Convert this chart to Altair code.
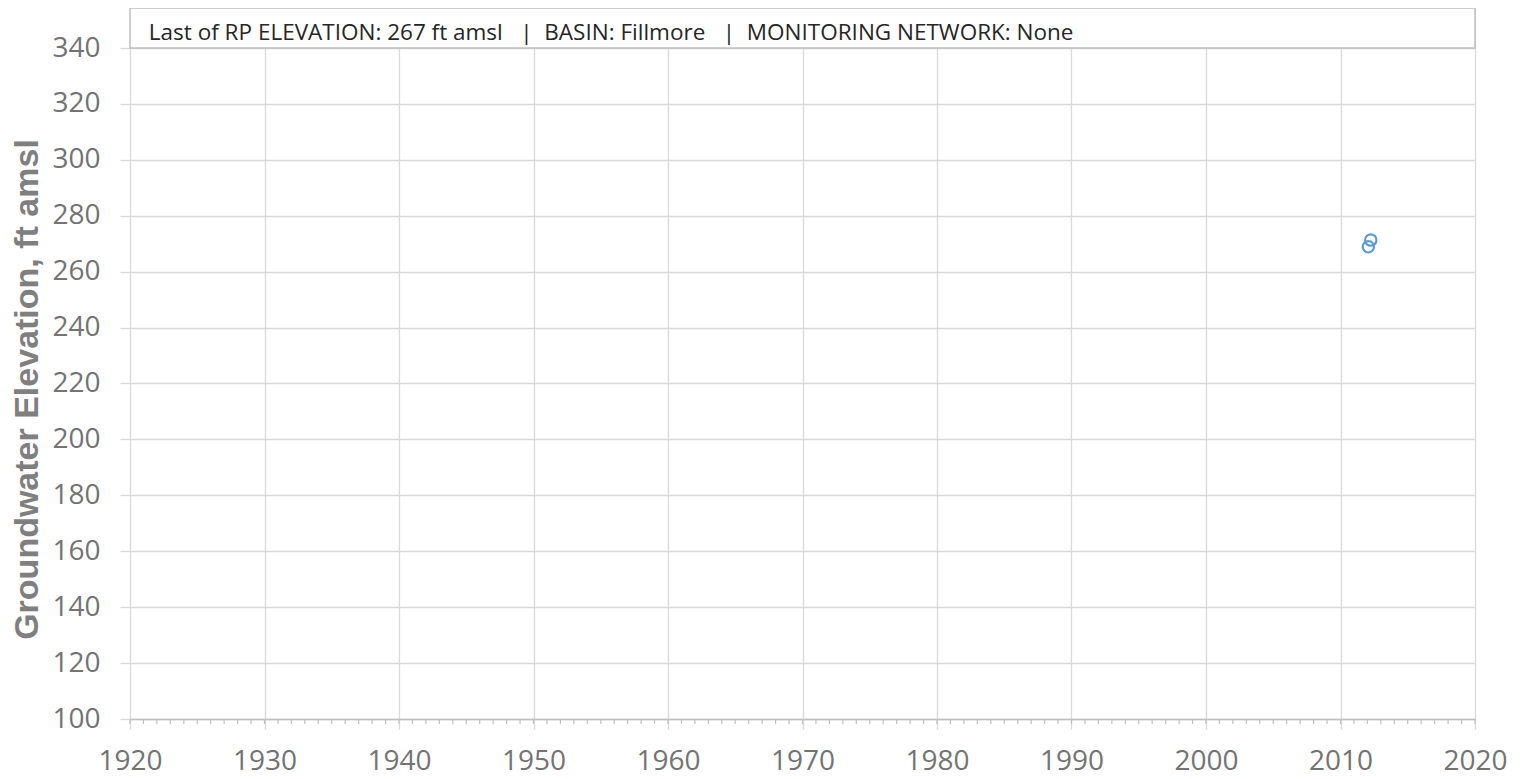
import altair as alt
import pandas as pd

# Data
years = [2012.07, 2012.25]
elev = [268.9, 271.3]

x_ticks = [1920, 1930, 1940, 1950, 1960, 1970, 1980, 1990, 2000, 2010, 2020]
y_ticks = [100, 120, 140, 160, 180, 200, 220, 240, 260, 280, 300, 320, 340]
minor_years = list(range(1920, 2021))
SEP = "\u00a0\u00a0\u00a0|\u00a0\u00a0"
header_text = "Last of RP ELEVATION: 267 ft amsl" + SEP + "BASIN: Fillmore" + SEP + "MONITORING NETWORK: None"

W, H = 1345, 711
PX_PER_UNIT = 671 / 240
Y_TOP = 100 + H / PX_PER_UNIT
X_DOM = [1920, 2020]
Y_DOM = [100, Y_TOP]

xs = alt.Scale(domain=X_DOM, nice=False, zero=False)
ys = alt.Scale(domain=Y_DOM, nice=False, zero=False)

LABEL_FONT = "Open Sans"
GRID = "#d9d9d9"
LABEL_COLOR = "#737373"

pts = pd.DataFrame({"year": years, "elev": elev})

x_axis = alt.Axis(values=x_ticks, format="d", grid=True, gridColor=GRID, gridWidth=1.3,
                  tickColor=GRID, tickSize=10, tickWidth=1.3, domainColor="#bfbfbf", domainWidth=1.3,
                  labelFont=LABEL_FONT, labelFontSize=28, labelColor=LABEL_COLOR,
                  labelBaseline="alphabetic", labelPadding=40, title=None, labelFlush=False)
y_axis = alt.Axis(values=y_ticks, grid=True, gridColor=GRID, gridWidth=1.3,
                  tickColor=GRID, tickSize=10, tickWidth=1.3, domain=False,
                  labelFont=LABEL_FONT, labelFontSize=28, labelColor=LABEL_COLOR,
                  labelPadding=20, title="Groundwater Elevation, ft amsl",
                  titleFont="Liberation Sans", titleFontSize=34, titleFontWeight="bold",
                  titleColor="#7f7f7f", titleAngle=270, titleBaseline="alphabetic",
                  titleAlign="center", titleX=-93, titleY=381)

base = alt.Chart(pts).mark_point(filled=False, size=130, strokeWidth=2.2, color="#5B9BD5", opacity=1).encode(
    x=alt.X("year:Q", scale=xs, axis=x_axis),
    y=alt.Y("elev:Q", scale=ys, axis=y_axis),
)

minor = alt.Chart(pd.DataFrame({"yr": minor_years})).mark_rule(color="#bfbfbf", strokeWidth=1.2).encode(
    x=alt.X("yr:Q", scale=xs),
    y=alt.value(H),
    y2=alt.value(H + 5),
)

hdr = pd.DataFrame({"x0": [X_DOM[0]], "x1": [X_DOM[1]], "y0": [340], "y1": [Y_TOP],
                    "tx": [1921.4], "ty": [342.9], "label": [header_text]})
box = alt.Chart(hdr).mark_rect(fill="white", stroke="#bfbfbf", strokeWidth=1.5).encode(
    x=alt.X("x0:Q", scale=xs), x2="x1:Q",
    y=alt.Y("y0:Q", scale=ys), y2="y1:Q",
)
txt = alt.Chart(hdr).mark_text(align="left", baseline="alphabetic", font=LABEL_FONT, fontSize=22.5,
                               color="#262626").encode(
    x=alt.X("tx:Q", scale=xs),
    y=alt.Y("ty:Q", scale=ys),
    text="label:N",
)

chart = alt.layer(base, minor, box, txt).properties(
    width=W, height=H,
    autosize=alt.AutoSizeParams(type="none"),
    padding={"left": 122, "top": 0, "right": 34, "bottom": 57},
).configure_view(stroke=None)

chart.save("out.html", embed_options={"renderer": "svg", "actions": False})
